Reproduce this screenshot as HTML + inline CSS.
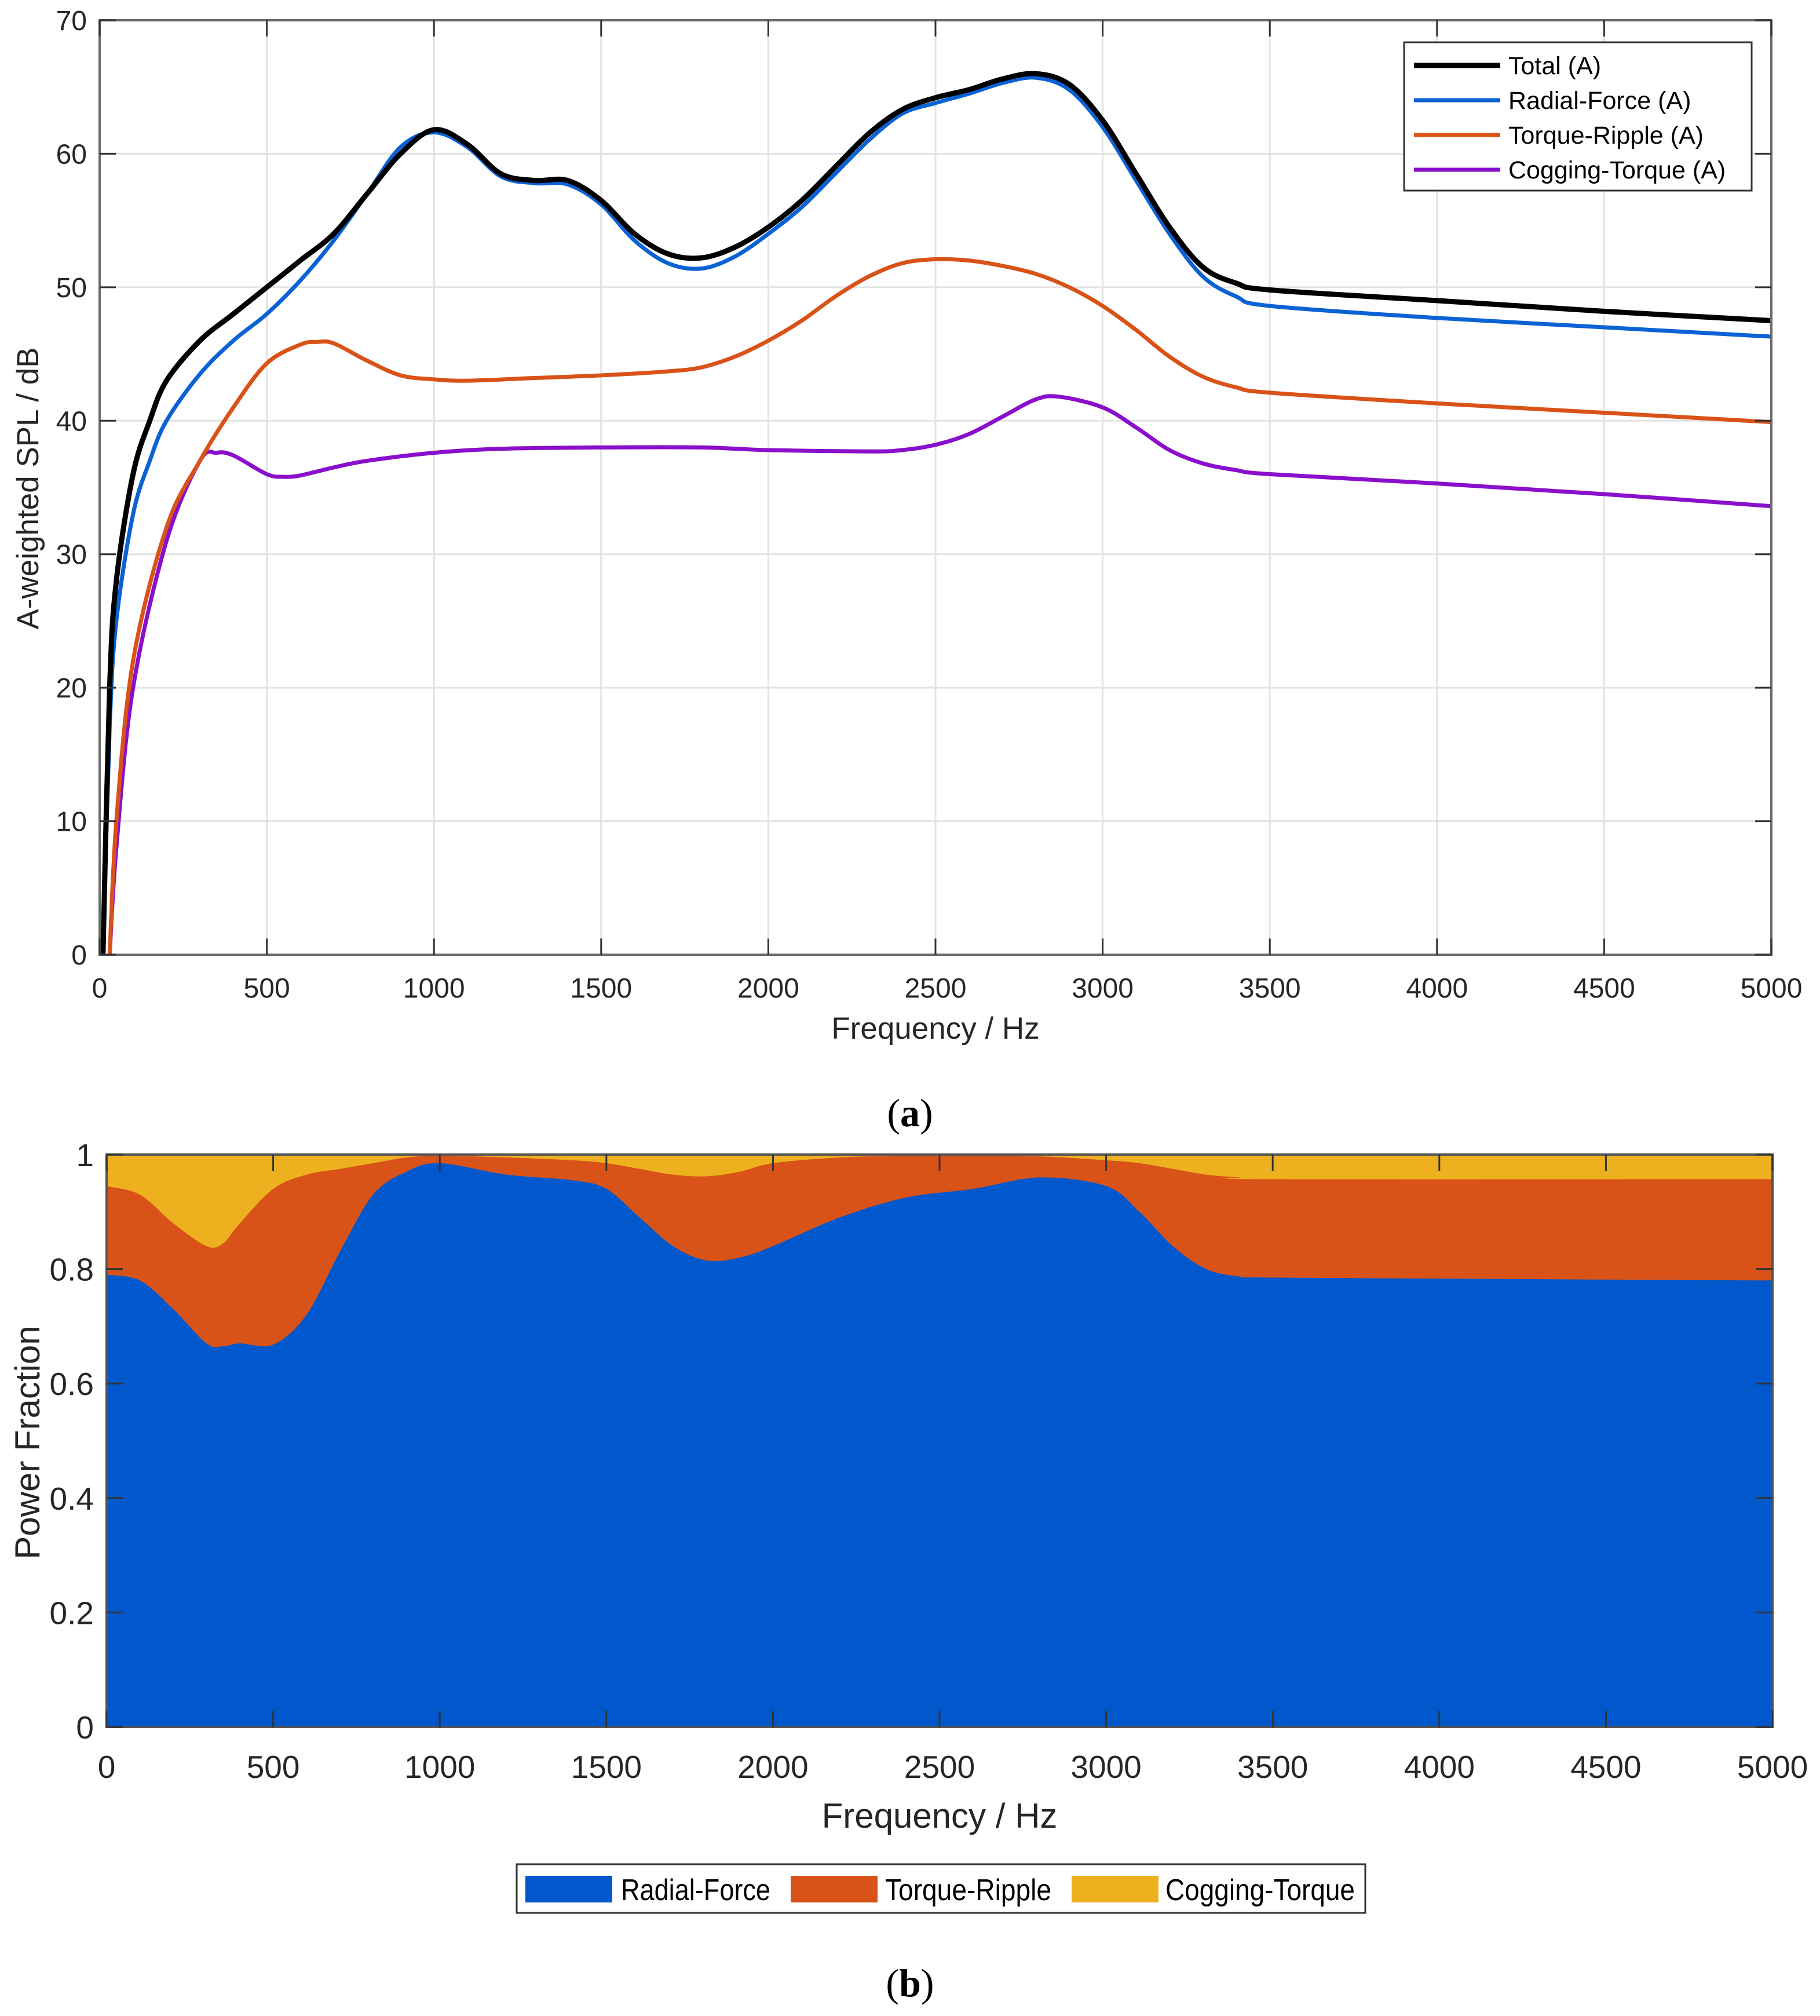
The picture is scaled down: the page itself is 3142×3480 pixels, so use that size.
<!DOCTYPE html>
<html><head><meta charset="utf-8"><style>
html,body{margin:0;padding:0;background:#fff;}
svg{display:block;font-family:"Liberation Sans",sans-serif;}
</style></head><body>
<svg id="fig" width="3142" height="3480" viewBox="0 0 3142 3480" xmlns="http://www.w3.org/2000/svg">
<rect width="3142" height="3480" fill="#fff"/>
<g id="top"></g>
<g id="bot"></g>
</svg>
<script>
// ---- top chart data ----
const totalF=[10,30,50,100,150,200,300,400,500,600,700,800,900,1000,1100,1200,1300,1400,1500,1600,1700,1800,1900,2000,2100,2200,2300,2400,2500,2600,2700,2800,2900,3000,3100,3200,3300,3400,3500,4000,4500,5000];
const totalV=[0,20,28,36,40,43,46,48,50,52,54,57,60,61.8,60.7,58.5,58,58,56.5,54,52.5,52.2,53,54.5,56.5,59,61.5,63.3,64.2,64.8,65.6,66,65.2,62.5,58.5,54.5,51.5,50.3,49.8,49,48.2,47.5];
const radialV=[0,17,25,33,37,40,43.5,46,48,50.5,53.5,57,60.5,61.6,60.5,58.3,57.8,57.7,56.2,53.5,51.8,51.4,52.3,54,56,58.5,61,63,63.8,64.5,65.3,65.7,64.8,62,58,54,50.8,49.3,48.6,47.7,47,46.3];
const torqueF=[30,50,100,200,300,400,500,600,650,700,800,900,1000,1100,1300,1500,1700,1800,1900,2000,2100,2200,2300,2400,2500,2600,2700,2800,2900,3000,3100,3200,3300,3400,3500,4000,4500,5000];
const torqueV=[0,10,22,32,37,41,44.3,45.7,45.9,45.8,44.5,43.4,43.1,43,43.2,43.4,43.7,44,44.8,46,47.5,49.3,50.8,51.8,52.1,52,51.6,51,50,48.6,46.8,44.8,43.3,42.5,42.1,41.3,40.6,39.9];
const coggingF=[30,50,100,200,300,350,400,500,550,600,700,800,1000,1200,1500,1800,2000,2300,2400,2500,2600,2700,2800,2870,3000,3100,3200,3300,3400,3500,4000,4500,5000];
const coggingV=[0,8,20,31,37,37.6,37.4,36,35.8,35.9,36.5,37,37.6,37.9,38,38,37.8,37.7,37.8,38.2,39,40.3,41.6,41.8,41,39.5,37.8,36.8,36.3,36,35.3,34.5,33.6];
const xTicks=[0,500,1000,1500,2000,2500,3000,3500,4000,4500,5000];
const yTicksTop=[0,10,20,30,40,50,60,70];
// ---- bottom chart data ----
const fracF=[0,100,200,300,350,400,500,600,700,800,900,1000,1200,1400,1500,1600,1700,1800,1900,2000,2200,2400,2600,2800,3000,3100,3200,3300,3400,3500,5000];
const radialFrac=[.79,.78,.73,.67,.665,.67,.668,.72,.83,.93,.97,.985,.965,.955,.94,.89,.84,.815,.82,.84,.89,.925,.94,.96,.945,.9,.84,.8,.787,.785,.78];
const coggingFrac=[.055,.07,.12,.16,.155,.12,.06,.035,.025,.015,.005,.002,.005,.01,.015,.025,.035,.038,.03,.015,.005,.002,.002,.003,.01,.015,.025,.035,.04,.043,.043];
const yTicksBot=[0,0.2,0.4,0.6,0.8,1];

const NS="http://www.w3.org/2000/svg";
function mk(parent,tag,attrs,text){const e=document.createElementNS(NS,tag);for(const k in attrs)e.setAttribute(k,attrs[k]);if(text!==undefined)e.textContent=text;parent.appendChild(e);return e;}
function smooth(pts){let d=`M${pts[0][0]},${pts[0][1]}`;for(let i=0;i<pts.length-1;i++){const p0=pts[i-1]||pts[i],p1=pts[i],p2=pts[i+1],p3=pts[i+2]||p2;const c1=[p1[0]+(p2[0]-p0[0])/6,p1[1]+(p2[1]-p0[1])/6],c2=[p2[0]-(p3[0]-p1[0])/6,p2[1]-(p3[1]-p1[1])/6];d+=`C${c1[0]},${c1[1]} ${c2[0]},${c2[1]} ${p2[0]},${p2[1]}`;}return d;}

// ---- top chart ----
const T=document.getElementById('top');
const tL=172,tR=3058,tT=35,tB=1648;
const tx=f=>tL+f/5000*(tR-tL), ty=v=>tB-v/70*(tB-tT);
xTicks.forEach(f=>{const g=mk(T,'line',{x1:tx(f),x2:tx(f),y1:tT,y2:tB,stroke:'#e3e3e3','stroke-width':3});

});
yTicksTop.forEach(v=>{const g=mk(T,'line',{x1:tL,x2:tR,y1:ty(v),y2:ty(v),stroke:'#e3e3e3','stroke-width':3});

});
const series=[[totalF,totalV,'#000000',9,'total-line'],[totalF,radialV,'#0a62d4',7,'radial-force-line'],[torqueF,torqueV,'#d95319',7,'torque-ripple-line'],[coggingF,coggingV,'#8a0fcc',7,'cogging-torque-line']];
series.slice().reverse().forEach(s=>{const p=mk(T,'path',{d:smooth(s[0].map((f,i)=>[tx(f),ty(s[1][i])])),fill:'none',stroke:s[2],'stroke-width':s[3],'stroke-linejoin':'round'});

});
mk(T,'rect',{x:tL,y:tT,width:tR-tL,height:tB-tT,fill:'none',stroke:'#6b6b6b','stroke-width':4});
xTicks.forEach(f=>{mk(T,'line',{x1:tx(f),x2:tx(f),y1:tB,y2:tB-28,stroke:'#333','stroke-width':3});mk(T,'line',{x1:tx(f),x2:tx(f),y1:tT,y2:tT+28,stroke:'#333','stroke-width':3});
const t=mk(T,'text',{x:tx(f),y:1722,'text-anchor':'middle','font-size':48,fill:'#262626'},String(f));

});
yTicksTop.forEach(v=>{mk(T,'line',{x1:tL,x2:tL+28,y1:ty(v),y2:ty(v),stroke:'#333','stroke-width':3});mk(T,'line',{x1:tR,x2:tR-28,y1:ty(v),y2:ty(v),stroke:'#333','stroke-width':3});
const t=mk(T,'text',{x:150,y:ty(v)+17,'text-anchor':'end','font-size':48,fill:'#262626'},String(v));

});
let t1=mk(T,'text',{x:1615,y:1793,'text-anchor':'middle','font-size':53,fill:'#262626'},'Frequency / Hz');


t1=mk(T,'text',{x:0,y:0,transform:'translate(66,843) rotate(-90)','text-anchor':'middle','font-size':53,fill:'#262626'},'A-weighted SPL / dB');


const lg=mk(T,'g',{});


mk(lg,'rect',{x:2424,y:73,width:600,height:256,fill:'#fff',stroke:'#333','stroke-width':3});
const names=['Total (A)','Radial-Force (A)','Torque-Ripple (A)','Cogging-Torque (A)'];
names.forEach((n,i)=>{const y=113+i*60;mk(lg,'line',{x1:2441,x2:2590,y1:y,y2:y,stroke:series[i][2],'stroke-width':series[i][3]});
const t=mk(lg,'text',{x:2604,y:y+15,'font-size':43,fill:'#000'},n);

});
t1=mk(T,'text',{x:1571,y:1944,'text-anchor':'middle','font-size':68,'font-family':'Liberation Serif, serif',fill:'#000'},'');
t1.innerHTML='(<tspan font-weight="bold">a</tspan>)';



// ---- bottom chart ----
const B=document.getElementById('bot');
const bL=184,bR=3060,bT=1993,bB=2981;
const bx=f=>bL+f/5000*(bR-bL), by=v=>bB-v*(bB-bT);
let r=mk(B,'rect',{x:bL,y:bT,width:bR-bL,height:bB-bT,fill:'#edb120'});


const topPts=fracF.map((f,i)=>[bx(f),by(1-coggingFrac[i])]);
r=mk(B,'path',{d:smooth(topPts)+`L${bR},${bB}L${bL},${bB}Z`,fill:'#d95319'});


const bluePts=fracF.map((f,i)=>[bx(f),by(radialFrac[i])]);
r=mk(B,'path',{d:smooth(bluePts)+`L${bR},${bB}L${bL},${bB}Z`,fill:'#0058cc'});


mk(B,'rect',{x:bL,y:bT,width:bR-bL,height:bB-bT,fill:'none',stroke:'#555','stroke-width':4});
xTicks.forEach(f=>{mk(B,'line',{x1:bx(f),x2:bx(f),y1:bB,y2:bB-28,stroke:'#333','stroke-width':3});mk(B,'line',{x1:bx(f),x2:bx(f),y1:bT,y2:bT+28,stroke:'#333','stroke-width':3});
const t=mk(B,'text',{x:bx(f),y:3069,'text-anchor':'middle','font-size':55,fill:'#262626'},String(f));

});
yTicksBot.forEach(v=>{mk(B,'line',{x1:bL,x2:bL+28,y1:by(v),y2:by(v),stroke:'#333','stroke-width':3});mk(B,'line',{x1:bR,x2:bR-28,y1:by(v),y2:by(v),stroke:'#333','stroke-width':3});
const t=mk(B,'text',{x:162,y:by(v)+20,'text-anchor':'end','font-size':55,fill:'#262626'},String(v));

});
t1=mk(B,'text',{x:1622,y:3155,'text-anchor':'middle','font-size':60,fill:'#262626'},'Frequency / Hz');


t1=mk(B,'text',{x:0,y:0,transform:'translate(68,2490) rotate(-90)','text-anchor':'middle','font-size':60,fill:'#262626'},'Power Fraction');


const lb=mk(B,'g',{});


mk(lb,'rect',{x:892,y:3218,width:1465,height:84,fill:'#fff',stroke:'#333','stroke-width':3});
[[907,1072,'#0058cc','Radial-Force',258],[1365,1528,'#d95319','Torque-Ripple',287],[1850,2012,'#edb120','Cogging-Torque',327]].forEach(e=>{
mk(lb,'rect',{x:e[0],y:3238,width:150,height:46,fill:e[2]});
const t=mk(lb,'text',{x:e[1],y:3280,'font-size':52,fill:'#000',textLength:e[4],lengthAdjust:'spacingAndGlyphs'},e[3]);

});
t1=mk(B,'text',{x:1571,y:3446,'text-anchor':'middle','font-size':68,'font-family':'Liberation Serif, serif',fill:'#000'},'');
t1.innerHTML='(<tspan font-weight="bold">b</tspan>)';


</script>
</body></html>
